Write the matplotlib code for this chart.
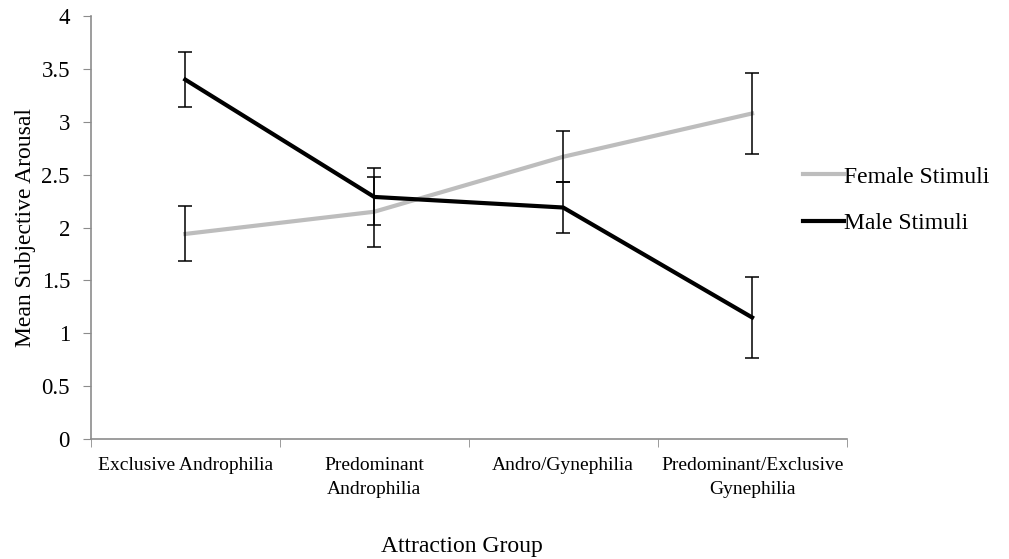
import matplotlib
matplotlib.use("Agg")
import matplotlib.pyplot as plt
import numpy as np

# ---- data ----
groups = ["Exclusive Androphilia", "Predominant\nAndrophilia",
          "Andro/Gynephilia", "Predominant/Exclusive\nGynephilia"]
female_mean = [1.94, 2.15, 2.67, 3.08]
female_err = [0.26, 0.33, 0.24, 0.38]
male_mean = [3.40, 2.29, 2.19, 1.15]
male_err = [0.26, 0.27, 0.24, 0.38]
y_ticks = [0, 0.5, 1, 1.5, 2, 2.5, 3, 3.5, 4]

plt.rcParams['font.family'] = ['Liberation Serif', 'DejaVu Serif']

fig = plt.figure(figsize=(10.09, 5.59), dpi=100)
ax = fig.add_axes([0.09, 0.2147, 0.749, 0.7563])

x = np.arange(len(groups))
spine_col = '#8c8c8c'

ax.plot(x, female_mean, color='#bdbdbd', lw=3, label='Female Stimuli', zorder=2)
ax.plot(x, male_mean, color='black', lw=3, label='Male Stimuli', zorder=3)
ax.errorbar(x, female_mean, yerr=female_err, fmt='none', ecolor='black',
            elinewidth=1.1, capsize=5, capthick=1.1, zorder=4)
ax.errorbar(x, male_mean, yerr=male_err, fmt='none', ecolor='black',
            elinewidth=1.1, capsize=5, capthick=1.1, zorder=4)

ax.set_xlim(-0.5, len(groups) - 0.5)
ax.set_ylim(0, 4)
ax.set_yticks(y_ticks)
ax.set_yticklabels([f"{v:g}" for v in y_ticks], fontsize=16.5)

# category labels centred, tick marks on the boundaries
ax.set_xticks(x)
ax.set_xticklabels(groups, fontsize=14, linespacing=1.5)
ax.tick_params(axis='x', which='major', length=0, pad=13)
ax.set_xticks(np.arange(-0.5, len(groups)), minor=True)
ax.tick_params(axis='x', which='minor', length=6, color=spine_col, direction='out')
ax.tick_params(axis='y', length=6, color=spine_col, pad=9)

for s in ['top', 'right']:
    ax.spines[s].set_visible(False)
for s in ['left', 'bottom']:
    ax.spines[s].set_color(spine_col)
    ax.spines[s].set_linewidth(1.2)

ax.set_ylabel('Mean Subjective Arousal', fontsize=17, labelpad=4)
fig.text(0.458, 0.012, 'Attraction Group', fontsize=17, ha='center')

fig.legend(loc='center left', bbox_to_anchor=(0.796, 0.642), frameon=False,
           fontsize=17, handlelength=1.75, handletextpad=0.0,
           labelspacing=1.05, borderpad=0, borderaxespad=0)

fig.savefig('out.png', dpi=100)
